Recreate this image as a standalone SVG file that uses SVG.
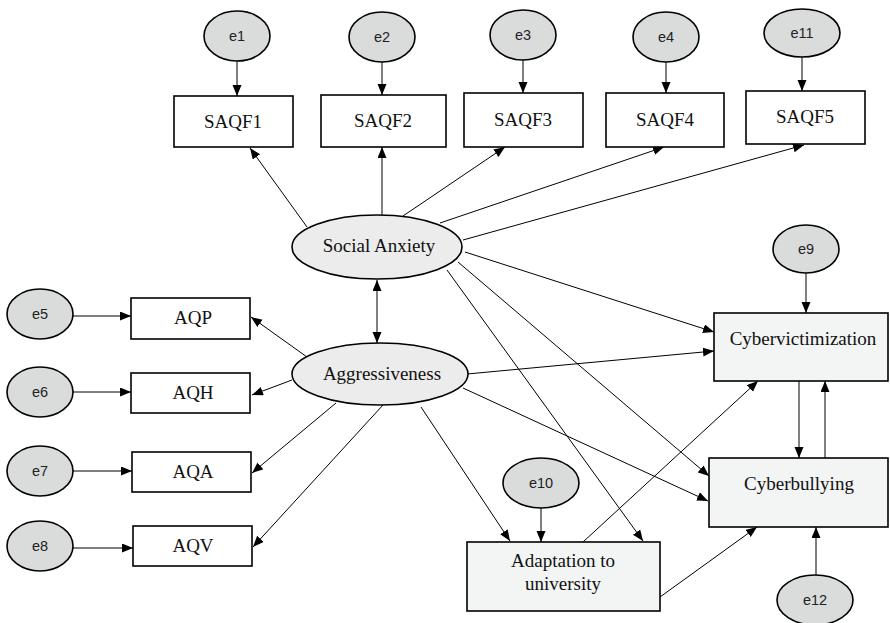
<svg xmlns="http://www.w3.org/2000/svg" width="890" height="623" viewBox="0 0 890 623">
<style>
.box{fill:#ffffff;stroke:#000;stroke-width:1.6}
.sbox{fill:#f3f4f4;stroke:#000;stroke-width:1.6}
.err{fill:#dadcdc;stroke:#000;stroke-width:1.6}
.lat{fill:#ececec;stroke:#000;stroke-width:1.6}
.t{font-family:"Liberation Serif","Times New Roman",serif;font-size:19px;fill:#111;text-anchor:middle}
.e{font-family:"Liberation Sans",Arial,sans-serif;font-size:14.5px;fill:#222;text-anchor:middle}
.c line{stroke:#000;stroke-width:1;fill:none;marker-end:url(#ah)}
</style>
<defs>
<marker id="ah" markerUnits="userSpaceOnUse" markerWidth="12" markerHeight="10" refX="11" refY="4.5" orient="auto-start-reverse">
<path d="M0,0 L11,4.5 L0,9 z" fill="#000"/>
</marker>
</defs>
<rect width="890" height="623" fill="#fff"/>
<g id="connectors" class="c">
<line x1="237" y1="61" x2="237" y2="96"/>
<line x1="382" y1="62" x2="382" y2="95"/>
<line x1="523" y1="60" x2="523" y2="93"/>
<line x1="666" y1="62" x2="666" y2="93"/>
<line x1="802" y1="57" x2="802" y2="91"/>
<line x1="307" y1="227" x2="250" y2="148"/>
<line x1="382" y1="215" x2="382" y2="147"/>
<line x1="403" y1="216" x2="505" y2="147"/>
<line x1="440" y1="223" x2="664" y2="147"/>
<line x1="463" y1="240" x2="804" y2="145"/>
<line x1="465" y1="252" x2="714" y2="332"/>
<line x1="458" y1="262" x2="709" y2="476"/>
<line x1="447" y1="270" x2="643" y2="541"/>
<line x1="377" y1="280" x2="377" y2="343" marker-start="url(#ah)"/>
<line x1="307" y1="357" x2="251" y2="317"/>
<line x1="292" y1="380" x2="252" y2="395"/>
<line x1="336" y1="403" x2="252" y2="473"/>
<line x1="383" y1="405" x2="253" y2="547"/>
<line x1="467" y1="374" x2="714" y2="351"/>
<line x1="463" y1="388" x2="708" y2="501"/>
<line x1="421" y1="407" x2="510" y2="541"/>
<line x1="73" y1="316" x2="131" y2="316"/>
<line x1="73" y1="392" x2="131" y2="392"/>
<line x1="73" y1="471" x2="132" y2="471"/>
<line x1="73" y1="548" x2="133" y2="548"/>
<line x1="806" y1="273" x2="806" y2="313"/>
<line x1="541" y1="508" x2="541" y2="542"/>
<line x1="816" y1="575" x2="816" y2="527"/>
<line x1="799" y1="381" x2="799" y2="458"/>
<line x1="825" y1="458" x2="825" y2="381"/>
<line x1="583" y1="542" x2="758" y2="381"/>
<line x1="660" y1="597" x2="757" y2="527"/>
</g>
<g id="e1"><ellipse class="err" cx="237" cy="36" rx="33" ry="25"/><text class="e" x="237" y="41">e1</text></g>
<g id="e2"><ellipse class="err" cx="382" cy="37" rx="33" ry="25"/><text class="e" x="382" y="42">e2</text></g>
<g id="e3"><ellipse class="err" cx="523" cy="35" rx="33" ry="25"/><text class="e" x="523" y="40">e3</text></g>
<g id="e4"><ellipse class="err" cx="666" cy="37" rx="33" ry="25"/><text class="e" x="666" y="42">e4</text></g>
<g id="e11"><ellipse class="err" cx="802" cy="33" rx="38" ry="24"/><text class="e" x="802" y="38">e11</text></g>
<g id="SAQF1"><rect class="box" x="174" y="96" width="119" height="51"/><text class="t" x="233" y="128">SAQF1</text></g>
<g id="SAQF2"><rect class="box" x="321" y="95" width="125" height="52"/><text class="t" x="383" y="127">SAQF2</text></g>
<g id="SAQF3"><rect class="box" x="464" y="93" width="119" height="54"/><text class="t" x="523" y="126">SAQF3</text></g>
<g id="SAQF4"><rect class="box" x="606" y="93" width="118" height="54"/><text class="t" x="665" y="126">SAQF4</text></g>
<g id="SAQF5"><rect class="box" x="746" y="91" width="119" height="53"/><text class="t" x="805" y="123">SAQF5</text></g>
<g id="social-anxiety"><ellipse class="lat" cx="377" cy="247" rx="85" ry="32"/><text class="t" x="379" y="252">Social Anxiety</text></g>
<g id="aggressiveness"><ellipse class="lat" cx="380" cy="374" rx="88" ry="31"/><text class="t" x="382" y="380">Aggressiveness</text></g>
<g id="e5"><ellipse class="err" cx="40" cy="314" rx="33" ry="25"/><text class="e" x="40" y="319">e5</text></g>
<g id="e6"><ellipse class="err" cx="40" cy="392" rx="33" ry="25"/><text class="e" x="40" y="397">e6</text></g>
<g id="e7"><ellipse class="err" cx="40" cy="471" rx="33" ry="25"/><text class="e" x="40" y="476">e7</text></g>
<g id="e8"><ellipse class="err" cx="40" cy="546" rx="33" ry="25"/><text class="e" x="40" y="551">e8</text></g>
<g id="AQP"><rect class="box" x="131" y="298" width="119" height="41"/><text class="t" x="193" y="324">AQP</text></g>
<g id="AQH"><rect class="box" x="131" y="373" width="119" height="40"/><text class="t" x="193" y="399">AQH</text></g>
<g id="AQA"><rect class="box" x="132" y="452" width="119" height="40"/><text class="t" x="193" y="478">AQA</text></g>
<g id="AQV"><rect class="box" x="133" y="526" width="119" height="40"/><text class="t" x="193" y="552">AQV</text></g>
<g id="e9"><ellipse class="err" cx="806" cy="249" rx="33" ry="24"/><text class="e" x="806" y="254">e9</text></g>
<g id="cybervictimization"><rect class="sbox" x="714" y="313" width="174" height="68"/><text class="t" x="803" y="345">Cybervictimization</text></g>
<g id="cyberbullying"><rect class="sbox" x="709" y="458" width="179" height="69"/><text class="t" x="799" y="490">Cyberbullying</text></g>
<g id="e10"><ellipse class="err" cx="541" cy="483" rx="38" ry="25"/><text class="e" x="541" y="488">e10</text></g>
<g id="adaptation"><rect class="sbox" x="467" y="542" width="193" height="69"/><text class="t" x="563" y="567">Adaptation to</text><text class="t" x="563" y="590">university</text></g>
<g id="e12"><ellipse class="err" cx="815" cy="600" rx="38" ry="25"/><text class="e" x="815" y="605">e12</text></g>
</svg>
